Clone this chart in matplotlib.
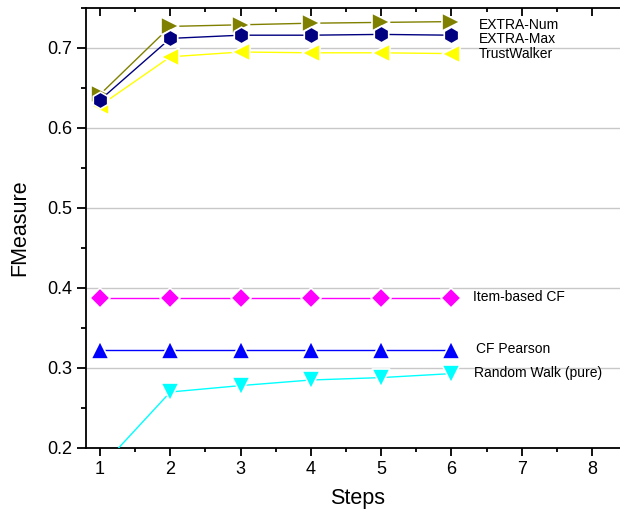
import matplotlib
matplotlib.use("Agg")
import matplotlib.pyplot as plt
from matplotlib.ticker import MultipleLocator

plt.rcParams['font.family'] = ['Liberation Sans', 'DejaVu Sans']

steps = [1, 2, 3, 4, 5, 6]

extra_num = [0.642, 0.727, 0.729, 0.731, 0.732, 0.733]
extra_max = [0.635, 0.712, 0.716, 0.716, 0.717, 0.716]
trust_walker = [0.628, 0.689, 0.695, 0.694, 0.694, 0.693]
item_cf = [0.387, 0.387, 0.387, 0.387, 0.387, 0.387]
cf_pearson = [0.322, 0.322, 0.322, 0.322, 0.322, 0.322]
random_walk = [0.175, 0.270, 0.278, 0.285, 0.288, 0.293]

series_names = ["EXTRA-Num", "EXTRA-Max", "TrustWalker",
                "Item-based CF", "CF Pearson", "Random Walk (pure)"]

fig = plt.figure(figsize=(6.2, 5.17), dpi=100)
W, H = 620, 517
ax = fig.add_axes([86 / W, (H - 448) / H, 544 / W, 440 / H])

ax.set_xlim(0.80, 8.54)
ax.set_ylim(0.2, 0.75)

ax.yaxis.set_major_locator(MultipleLocator(0.1))
ax.yaxis.set_minor_locator(MultipleLocator(0.05))
ax.xaxis.set_major_locator(MultipleLocator(1))
ax.xaxis.set_minor_locator(MultipleLocator(0.5))
ax.set_yticks([0.2, 0.3, 0.4, 0.5, 0.6, 0.7])

ax.grid(axis='y', which='major', color='#c8c8c8', linewidth=1.0, zorder=0)
ax.set_axisbelow(True)

for s in ax.spines.values():
    s.set_linewidth(1.3)
ax.spines['right'].set_visible(False)

ax.tick_params(axis='both', which='major', labelsize=13, width=1.3)
ax.tick_params(axis='x', which='major', direction='out', length=6, top=True)
ax.tick_params(axis='x', which='minor', direction='out', length=3, width=1.3, top=True)
ax.tick_params(axis='y', which='major', direction='out', length=6.5)
ax.tick_params(axis='y', which='minor', direction='out', length=3.5, width=1.3)
# top-axis ticks point into the plot
for t in ax.xaxis.get_major_ticks() + ax.xaxis.get_minor_ticks():
    t.tick2line.set_marker(3)

ax.set_yticklabels(["0.2", "0.3", "0.4", "0.5", "0.6", "0.7"])

common = dict(linewidth=1.0, markeredgecolor='white', markeredgewidth=1.2, zorder=3)

ax.plot(steps, random_walk, color='#00ffff', marker='v', markersize=13, **common)
ax.plot(steps, cf_pearson, color='#0000ff', marker='^', markersize=13, **common)
ax.plot(steps, item_cf, color='#ff00ff', marker='D', markersize=10, **common)
ax.plot(steps, trust_walker, color='#ffff00', marker='<', markersize=13, **common)
ax.plot(steps, extra_num, color='#808000', marker='>', markersize=13, **common)
ax.plot(steps, extra_max, color='#000080', marker='h', markersize=12, **common)

# series names next to the last point of each line
label_pos = [(6.39, 0.7285), (6.39, 0.7115), (6.39, 0.6925),
             (6.31, 0.3885), (6.35, 0.3235), (6.32, 0.2935)]
for name, (lx, ly) in zip(series_names, label_pos):
    ax.text(lx, ly, name, fontsize=10, va='center', ha='left', zorder=4)

ax.set_xlabel("Steps", fontsize=15.5, labelpad=7)
ax.set_ylabel("FMeasure", fontsize=15.5, labelpad=12)

fig.savefig("out.png", dpi=100)
